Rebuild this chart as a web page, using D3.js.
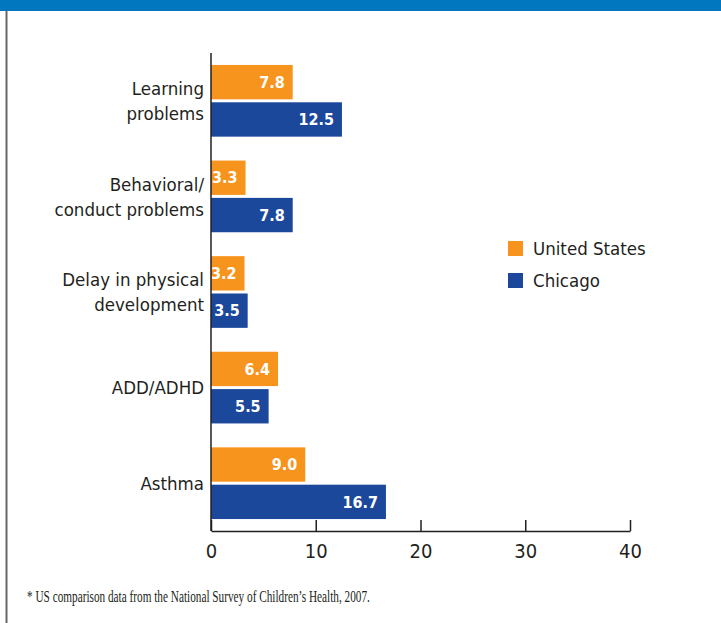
<!DOCTYPE html>
<html><head><meta charset="utf-8">
<script src="https://cdn.jsdelivr.net/npm/d3@7"></script>
<style>body{margin:0;background:#fff;} svg{display:block;}</style>
</head><body>
<script>
const categories = [["Learning","problems"],["Behavioral/","conduct problems"],["Delay in physical","development"],["ADD/ADHD"],["Asthma"]];
const categoryKeys = ["Learning problems","Behavioral/conduct problems","Delay in physical development","ADD/ADHD","Asthma"];
const seriesNames = ["United States","Chicago"];
const usValues = [7.8,3.3,3.2,6.4,9.0];
const chicagoValues = [12.5,7.8,3.5,5.5,16.7];
const xTicks = [0,10,20,30,40];
const colors = ["#f7941d","#1b489b"];
const footnote = "* US comparison data from the National Survey of Children\u2019s Health, 2007.";

const W=721,H=623;
const svg=d3.select("body").append("svg").attr("width",W).attr("height",H);
const cond = "'Liberation Sans Narrow','DejaVu Sans Condensed','Roboto Condensed',sans-serif";

// banner and border
svg.append("rect").attr("x",0).attr("y",0).attr("width",W).attr("height",11).attr("fill","#0077be");
svg.append("line").attr("x1",6.5).attr("x2",6.5).attr("y1",11).attr("y2",H).attr("stroke","#666").attr("stroke-width",2);

const x=d3.scaleLinear().domain([0,40]).range([211,630]);
const y0=d3.scaleBand().domain(categoryKeys).range([53,531]).paddingInner(0.25).paddingOuter(0.125);
const y1=d3.scaleBand().domain(seriesNames).range([0,y0.bandwidth()]).paddingInner(0.08);

const data=categoryKeys.map((k,i)=>({key:k,lines:categories[i],vals:[usValues[i],chicagoValues[i]]}));

const g=svg.append("g");
data.forEach(d=>{
  d.vals.forEach((v,j)=>{
    const yy=y0(d.key)+y1(seriesNames[j]);
    g.append("rect").attr("x",x(0)).attr("y",yy).attr("width",x(v)-x(0)).attr("height",y1.bandwidth()).attr("fill",colors[j]);
    g.append("text").attr("x",x(v)-8).attr("y",yy+y1.bandwidth()/2).attr("dy","0.36em")
      .attr("text-anchor","end").attr("fill","#fff").attr("font-family",cond).attr("font-weight","bold")
      .attr("font-size",16).text(v.toFixed(1));
  });
  const cy=y0(d.key)+y0.bandwidth()/2;
  const n=d.lines.length;
  d.lines.forEach((t,k)=>{
    g.append("text").attr("x",204).attr("y",cy+(k-(n-1)/2)*25).attr("dy","0.36em").attr("text-anchor","end")
      .attr("fill","#231f20").attr("font-family",cond).attr("font-size",18.5).text(t);
  });
});

// axes
const xa=svg.append("g").attr("transform","translate(0,531)")
  .call(d3.axisBottom(x).tickValues(xTicks).tickSizeInner(-11).tickSizeOuter(0).tickPadding(13));
xa.select(".domain").attr("stroke","#231f20").attr("stroke-width",1.5);
xa.selectAll(".tick line").attr("stroke","#231f20").attr("stroke-width",1.5);
xa.selectAll(".tick text").attr("font-family",cond).attr("font-size",20).attr("fill","#231f20");
svg.append("line").attr("x1",x(0)).attr("x2",x(0)).attr("y1",53).attr("y2",531).attr("stroke","#231f20").attr("stroke-width",1.5);

// legend
seriesNames.forEach((s,i)=>{
  const ly=241+i*32;
  svg.append("rect").attr("x",508).attr("y",ly).attr("width",15).attr("height",15).attr("fill",colors[i]);
  svg.append("text").attr("x",533).attr("y",ly+7.5).attr("dy","0.36em").attr("font-family",cond)
    .attr("font-size",18.5).attr("fill","#231f20").text(s);
});

// footnote
const fg=svg.append("g");
const ft=fg.append("text").attr("x",0).attr("y",0).attr("font-family","'Liberation Serif','DejaVu Serif',serif")
  .attr("font-size",16).attr("fill","#231f20").text(footnote);
const len=ft.node().getComputedTextLength();
fg.attr("transform",`translate(27,602) scale(${343/len},1)`);
</script>
</body></html>
